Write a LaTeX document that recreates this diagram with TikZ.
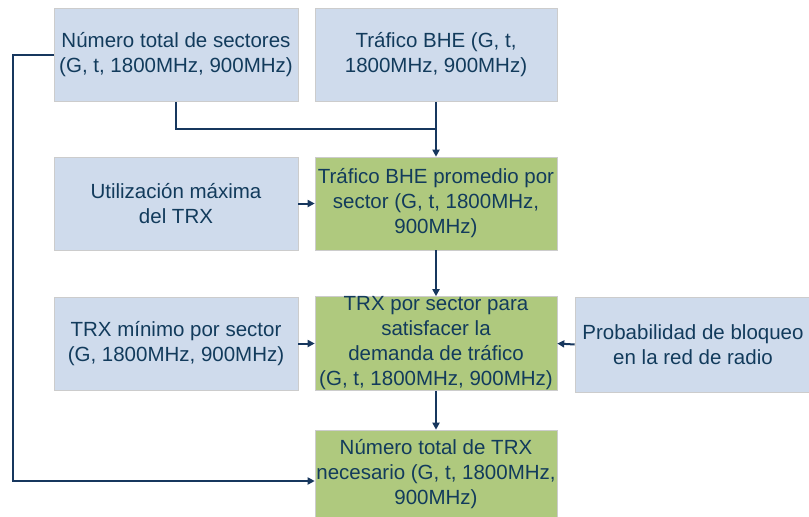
\documentclass[tikz,border=0pt]{standalone}
\usepackage{fontspec}
\setmainfont{Liberation Sans}
\usetikzlibrary{arrows.meta}
\definecolor{boxblue}{HTML}{CFDBEC}
\definecolor{boxgreen}{HTML}{AFC97E}
\definecolor{txt}{HTML}{123B5C}
\definecolor{ln}{HTML}{17375E}
\tikzset{
  base/.style={draw=black!20, line width=0.6pt, minimum height=93pt, align=center, text=txt, inner sep=0pt,
    font=\fontsize{20.5}{25}\selectfont},
  inbox/.style={base, fill=boxblue, minimum width=244pt},
  calcbox/.style={base, fill=boxgreen, minimum width=242pt},
  conn/.style={draw=ln, line width=2pt},
  arr/.style={conn, -{Triangle[length=7pt,width=7pt]}}
}
\begin{document}
\begin{tikzpicture}[x=1pt,y=-1pt]
\useasboundingbox (0,0) rectangle (809,517);
\node[inbox] (A) at (176,55) {Número total de sectores\\(G, t, 1800MHz, 900MHz)};
\node[inbox, minimum width=242pt] (B) at (436,55) {Tráfico BHE (G, t,\\1800MHz, 900MHz)};
\node[inbox] (C) at (176,203.5) {Utilización máxima\\del TRX};
\node[calcbox] (D) at (436,203.5) {Tráfico BHE promedio por\\sector (G, t, 1800MHz,\\900MHz)};
\node[inbox] (E) at (176,343.5) {TRX mínimo por sector\\(G, 1800MHz, 900MHz)};
\node[calcbox, minimum height=94pt] (F) at (436,343.5) {TRX por sector para\\satisfacer la\\demanda de tráfico\\(G, t, 1800MHz, 900MHz)};
\node[inbox, minimum width=236pt, minimum height=95pt] (G) at (693,344.5) {Probabilidad de bloqueo\\en la red de radio};
\node[calcbox, minimum height=88pt] (H) at (436,474) {Número total de TRX\\necesario (G, t, 1800MHz,\\900MHz)};
\coordinate (j) at (436,129);
\draw[conn] (A.south) |- (j);
\draw[arr] (B.south) -- (D.north);
\draw[arr] (C.east) -- (D.west);
\draw[arr] (D.south) -- (F.north);
\draw[arr] (E.east) -- (F.west);
\draw[arr] (G.west) -- (F.east);
\draw[arr] (F.south) -- (H.north);
\coordinate (l1) at (13,55);
\coordinate (l2) at (13,481);
\draw[arr] (A.west) -- (l1) -- (l2) -- (H.west |- l2);
\end{tikzpicture}
\end{document}
